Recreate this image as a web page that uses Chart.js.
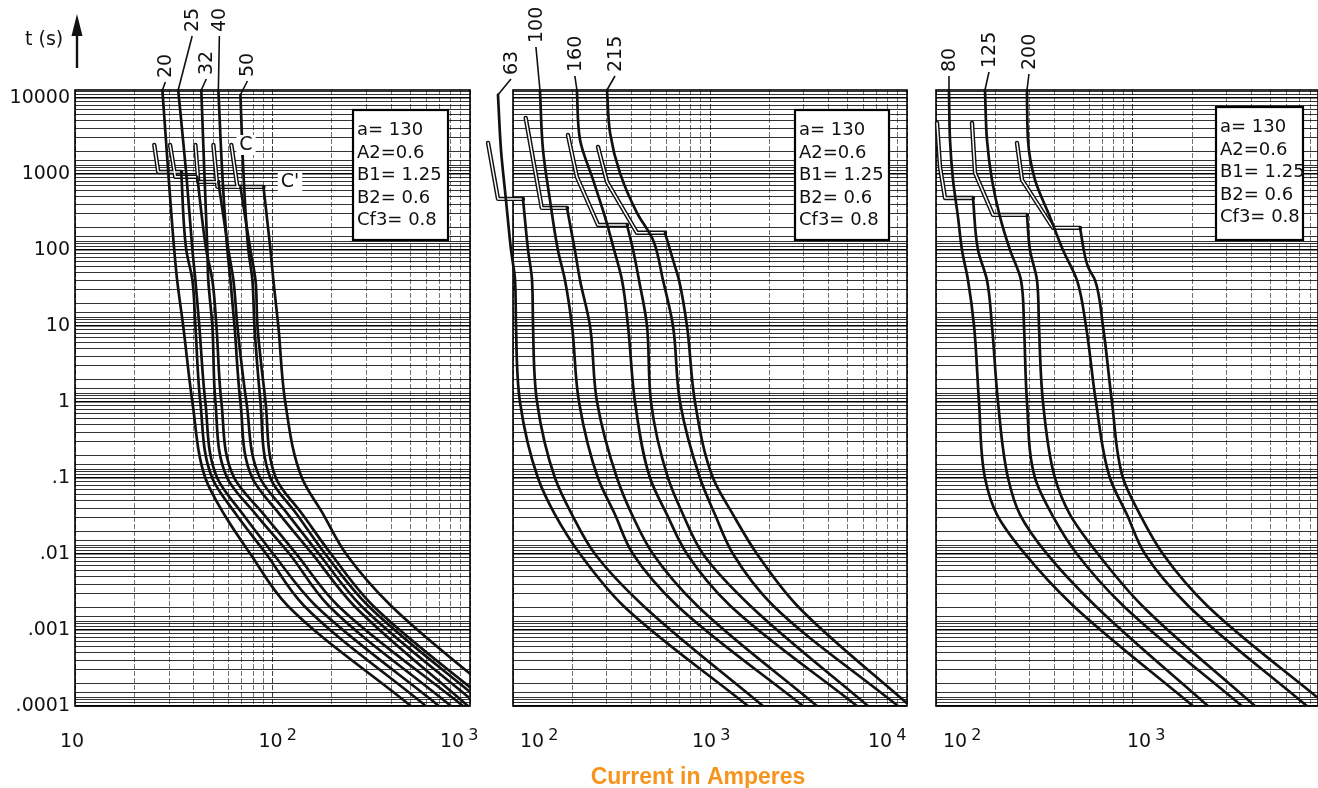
<!DOCTYPE html>
<html><head><meta charset="utf-8">
<script src="https://cdn.jsdelivr.net/npm/chart.js@4"></script>
<style>
html,body{margin:0;padding:0;background:#fff;width:1318px;height:788px;overflow:hidden}
canvas{position:absolute;left:0;top:0}
</style></head>
<body>
<canvas id="cLeft" width="1318" height="788"></canvas>
<canvas id="cMid" width="1318" height="788"></canvas>
<canvas id="cRight" width="1318" height="788"></canvas>
<script>
// ---------------- axes / ticks ----------------
const Y_MIN = 0.0001, Y_MAX = 12700;
const LEFT_X = [10, 1000];
const MID_X = [100, 10000];
const RIGHT_X = [100, 8700];
const Y_GRID_STEPS = [1, 1.1, 1.2, 1.3, 1.5, 2, 3, 4, 5, 6, 7, 8, 9];
const X_GRID_STEPS = [1, 2, 3, 4, 5, 6, 7, 8, 9];
const Y_TICKS = [10000, 1000, 100, 10, 1, 0.1, 0.01, 0.001, 0.0001];
const Y_TICK_LABELS = ['10000', '1000', '100', '10', '1', '.1', '.01', '.001', '.0001'];
const LEFT_X_TICKS = [10, 100, 1000];   const LEFT_X_EXP = ['', '2', '3'];
const MID_X_TICKS = [100, 1000, 10000]; const MID_X_EXP = ['2', '3', '4'];
const RIGHT_X_TICKS = [100, 1000];      const RIGHT_X_EXP = ['2', '3'];
const PARAM_LINES = ['a= 130', 'A2=0.6', 'B1= 1.25', 'B2= 0.6', 'Cf3= 0.8'];
const Y_TITLE = 't (s)';
const X_TITLE = 'Current in Amperes';
const CURVE_MARKS = ['C', "C'"];

// ---------------- left panel (ratings 20..50 A) : [current A, time s] ----------------
const LEFT_RATINGS = ['20', '25', '32', '40', '50'];
const F20_MAIN = [[27.7,12700],[29.7,1000],[31.8,100],[32.9,40],[35.3,10],[39.3,1],[45.7,0.1],[57,0.033],[77.3,0.01],[119,0.0021],[502,0.0001]];
const F20_DBL  = [[25.2,2400],[26.4,1060],[34.5,1060]];
const F20_ALT  = [[34.5,1060],[36.6,100],[39.3,40],[40.7,10],[43.1,1],[49.5,0.1],[65.5,0.033],[93,0.01],[144,0.0021],[598,0.0001]];
const F25_MAIN = [[33.3,12700],[36.6,1000],[39.3,100],[40.7,40],[42.6,10],[45.7,1],[52.5,0.1],[71,0.033],[101,0.01],[165,0.0021],[696,0.0001]];
const F25_DBL  = [[30.3,2400],[32.2,915],[41.6,915]];
const F25_ALT  = [[41.6,915],[46.2,100],[49.6,40],[52.0,10],[55.1,1],[64,0.1],[90.5,0.033],[132,0.01],[214,0.0021],[922,0.0001]];
const F32_MAIN = [[43.6,12700],[45.2,1000],[46.8,100],[47.3,40],[49.6,10],[51.4,1],[59,0.1],[82.5,0.033],[122,0.01],[192,0.0021],[801,0.0001]];
const F32_DBL  = [[40.7,2400],[42.1,785],[53.2,785]];
const F32_ALT  = [[53.2,785],[59.8,100],[63.4,40],[66.4,10],[73.8,1],[86.5,0.1],[120,0.033],[172,0.01],[280,0.0021],[1111,0.0001]];
const F40_MAIN = [[53.2,12700],[55.7,1000],[59.1,100],[61.2,40],[64.2,10],[68.8,1],[79,0.1],[109,0.033],[159,0.01],[258,0.0021],[977,0.0001]];
const F40_DBL  = [[50.2,2400],[52.6,675],[68.8,675]];
const F40_ALT  = [[68.8,675],[77.3,100],[82,40],[83.9,10],[92.2,1],[104,0.1],[142,0.033],[198,0.01],[322,0.0021],[1309,0.0001]];
const F50_MAIN = [[68.8,11000],[71.3,1000],[75.5,100],[79.1,40],[81,10],[86.9,1],[97.5,0.1],[133,0.033],[185,0.01],[304,0.0021],[1220,0.0001]];
const F50_DBL  = [[61.9,2400],[66.4,675],[90,675]];
const F50_ALT  = [[90,675],[97.7,100],[101,40],[107,10],[116,1],[141,0.1],[181,0.033],[236,0.01],[397,0.0021],[1578,0.0001]];

// ---------------- middle panel (63..215 A) ----------------
const MID_RATINGS = ['63', '100', '160', '215'];
const F63_MAIN  = [[83.9,11000],[86.9,2070],[92.1,455],[97.7,100],[102.4,40],[103.6,10],[108.5,1],[133.9,0.1],[163.4,0.033],[218.9,0.01],[361.8,0.0021],[1559,0.0001]];
const F63_DBL   = [[74.7,2560],[83.9,469],[112.4,469]];
const F63_ALT   = [[112.4,469],[119.2,100],[124.9,40],[126.4,10],[132.4,1],[163.4,0.1],[199.3,0.033],[260.8,0.01],[457,0.0021],[1858,0.0001]];
const F100_MAIN = [[137,12700],[142,2070],[154,455],[169,100],[183.6,40],[199.3,10],[216.3,1],[270.1,0.1],[329.4,0.033],[406.6,0.01],[680,0.0021],[2966,0.0001]];
const F100_DBL  = [[116,5450],[140,357],[188,357]];
const F100_ALT  = [[188,357],[206,100],[218.9,40],[246,10],[267,1],[337.2,0.1],[401.8,0.033],[513.6,0.01],[859,0.0021],[3493,0.0001]];
const F160_MAIN = [[211,12700],[219,2800],[255,834],[293,272],[326,100],[357.6,40],[383.5,10],[416.3,1],[496.1,0.1],[604.9,0.033],[764.2,0.01],[1263,0.0021],[5575,0.0001]];
const F160_DBL  = [[190,3260],[211,915],[270,213],[379,213]];
const F160_ALT  = [[379,213],[407,100],[436.2,40],[478.9,10],[501.8,1],[612.1,0.1],[729.5,0.033],[921.5,0.01],[1596,0.0021],[6339,0.0001]];
const F215_MAIN = [[300,12700],[311,3460],[349,1030],[426,307],[514,135],[577.3,40],[648.9,10],[704.2,1],[889.7,0.1],[1060,0.033],[1309,0.01],[2088,0.0021],[9000,0.0001]];
const F215_DBL  = [[270,2265],[300,785],[426,168],[591,168]];
const F215_ALT  = [[591,168],[649,74],[696,40],[764,10],[839,1],[1036,0.1],[1309,0.033],[1732,0.01],[2764,0.0021],[10356,0.0001]];

// ---------------- right panel (80..200 A) ----------------
const RIGHT_RATINGS = ['80', '125', '200'];
const F80_MAIN  = [[116.4,12700],[117.8,2800],[122,834],[129.3,272],[135.5,100],[145.4,40],[156,10],[165.3,1],[177.3,0.1],[204,0.033],[283,0.01],[496,0.0021],[2017,0.0001]];
const F80_DBL   = [[101.2,4690],[104.8,1236],[111.1,483],[154.1,483]];
const F80_ALT   = [[154.1,483],[163.4,100],[181.5,40],[192.4,10],[206.4,1],[232.1,0.1],[267,0.033],[366,0.01],[641.5,0.0021],[2403,0.0001]];
const F125_MAIN = [[177.3,12700],[181.5,2800],[192.4,834],[211.3,272],[237.5,100],[270.1,40],[279.8,10],[289.7,1],[318.2,0.1],[388,0.033],[519.6,0.01],[889.7,0.0021],[3576,0.0001]];
const F125_DBL  = [[152.3,4690],[157.8,1030],[194.7,289],[289.7,289]];
const F125_ALT  = [[289.7,289],[300,100],[325.6,40],[333.3,10],[349.2,1],[401.8,0.1],[478.9,0.033],[664.3,0.01],[1111,0.0021],[4163,0.0001]];
const F200_MAIN = [[289.7,12700],[293.1,2800],[318.2,834],[379,272],[441.2,100],[519.6,40],[577.3,10],[648.9,1],[764.2,0.1],[932.2,0.033],[1151,0.01],[1902,0.0021],[7642,0.0001]];
const F200_DBL  = [[257.7,2560],[273.3,834],[392.6,195],[538.3,195]];
const F200_ALT  = [[538.3,195],[591,60],[641.5,40],[704.2,10],[782.3,1],[889.7,0.1],[1085,0.033],[1420,0.01],[2375,0.0021],[9768,0.0001]];

// ---------------- layout (pixels only) ----------------
const LAYOUT = {
  left:  { pad:{left:75,  right:848, top:90, bottom:82}, box:[353,110,95,130], xdx:[-15,-14,-30], lab:[[4,78],[15,32],[6,75],[2,32],[8,77]], clipLeft:0 },
  mid:   { pad:{left:513, right:411, top:90, bottom:82}, box:[795,110,94,130], xdx:[7,-18,-39],   lab:[[14,75],[-3,43],[-1,72],[9,72]],      clipLeft:40 },
  right: { pad:{left:936, right:0,   top:90, bottom:82}, box:[1216,107,87,133], xdx:[7,-6],       lab:[[1,72],[5,68],[3,70]],                clipLeft:4 }
};
const FONT = '"DejaVu Sans", sans-serif';
const INK = '#111';

function pts(a) { return a.map(p => ({x: p[0], y: p[1]})); }
function gridValues(min, max, steps) {
  const out = [];
  for (let e = Math.floor(Math.log10(min)) - 1; e <= Math.ceil(Math.log10(max)); e++) {
    for (const m of steps) {
      const v = parseFloat((m * Math.pow(10, e)).toPrecision(6));
      if (v >= min * 0.9999 && v <= max * 1.0001) out.push(v);
    }
  }
  return out;
}
function isDecade(v) { const l = Math.log10(v); return Math.abs(l - Math.round(l)) < 1e-6; }

function buildDatasets(groups, clipLeft) {
  const ds = [];
  const clip = {left: clipLeft, top: 6, right: 0, bottom: 0};
  groups.forEach(g => {
    ds.push({data: pts(g.dbl), borderColor: INK, borderWidth: 4.4, tension: 0, order: 3, clip});
    ds.push({data: pts(g.dbl), borderColor: '#fff', borderWidth: 1.5, tension: 0, order: 2, clip});
    ds.push({data: pts(g.main), borderColor: INK, borderWidth: 2.7, cubicInterpolationMode: 'monotone', order: 1, clip});
    ds.push({data: pts(g.alt), borderColor: INK, borderWidth: 2.7, cubicInterpolationMode: 'monotone', order: 1, clip});
  });
  ds.forEach(d => { d.showLine = true; d.pointRadius = 0; d.fill = false; d.indexAxis = 'y';
                    d.borderCapStyle = 'round'; d.borderJoinStyle = 'round'; });
  return ds;
}

function panelPlugin(P) {
  return {
    id: 'panel_' + P.name,
    beforeDatasetsDraw(chart) {
      const {ctx, chartArea: a} = chart;
      ctx.save();
      ctx.strokeStyle = '#000'; ctx.lineWidth = 1.6;
      ctx.strokeRect(a.left, a.top, a.right - a.left, a.bottom - a.top);
      ctx.restore();
    },
    afterDatasetsDraw(chart) {
      const ctx = chart.ctx;
      const [bx, by, bw, bh] = P.L.box;
      ctx.save();
      ctx.fillStyle = '#fff'; ctx.fillRect(bx, by, bw, bh);
      ctx.lineWidth = 2.2; ctx.strokeStyle = '#000'; ctx.strokeRect(bx, by, bw, bh);
      ctx.fillStyle = INK; ctx.font = '18px ' + FONT; ctx.textAlign = 'left'; ctx.textBaseline = 'alphabetic';
      PARAM_LINES.forEach((s, i) => ctx.fillText(s, bx + 4, by + 25 + i * 22.5));
      ctx.restore();
    },
    afterDraw(chart) {
      const {ctx, chartArea: a} = chart;
      const xs = chart.scales.x, ys = chart.scales.y;
      ctx.save();
      ctx.fillStyle = INK; ctx.strokeStyle = INK;
      P.xTicks.forEach((v, i) => {
        const px = xs.getPixelForValue(v) + P.L.xdx[i];
        ctx.font = '19px ' + FONT; ctx.textAlign = 'left'; ctx.textBaseline = 'alphabetic';
        ctx.fillText('10', px, 747);
        if (P.xExp[i]) {
          const w = ctx.measureText('10').width;
          ctx.font = '16px ' + FONT;
          ctx.fillText(P.xExp[i], px + w + 4, 740);
        }
      });
      if (P.yLabels) {
        ctx.font = '19px ' + FONT; ctx.textAlign = 'right'; ctx.textBaseline = 'middle';
        Y_TICKS.forEach((v, i) => ctx.fillText(Y_TICK_LABELS[i], a.left - 5, ys.getPixelForValue(v)));
        ctx.textAlign = 'left'; ctx.textBaseline = 'alphabetic';
        ctx.fillText(Y_TITLE, 25, 45);
        ctx.lineWidth = 2.4;
        ctx.beginPath(); ctx.moveTo(77, 68); ctx.lineTo(77, 28); ctx.stroke();
        ctx.beginPath(); ctx.moveTo(71.5, 36); ctx.lineTo(77, 14); ctx.lineTo(82.5, 36); ctx.closePath(); ctx.fill();
        ctx.font = '19px ' + FONT; ctx.textBaseline = 'middle'; ctx.textAlign = 'center';
        [[246, 145], [290, 182]].forEach((pos, i) => {
          const w = ctx.measureText(CURVE_MARKS[i]).width + 6;
          ctx.fillStyle = '#fff'; ctx.fillRect(pos[0] - w / 2, pos[1] - 10, w, 20);
          ctx.fillStyle = INK; ctx.fillText(CURVE_MARKS[i], pos[0], pos[1]);
        });
      }
      P.groups.forEach((g, i) => {
        const top = g.main[0];
        const tx = xs.getPixelForValue(top[0]);
        const ty = ys.getPixelForValue(Math.min(top[1], Y_MAX));
        const [dx, bottom] = P.L.lab[i];
        const cx = tx + dx;
        ctx.lineWidth = 1.6;
        ctx.beginPath(); ctx.moveTo(cx - 1, bottom + 4); ctx.lineTo(tx, ty); ctx.stroke();
        ctx.save();
        ctx.translate(cx, bottom);
        ctx.rotate(-Math.PI / 2);
        ctx.font = '19px ' + FONT; ctx.textAlign = 'left'; ctx.textBaseline = 'middle';
        ctx.fillText(g.label, 0, 0);
        ctx.restore();
      });
      if (P.xTitle) {
        ctx.font = 'bold 23px "Liberation Sans", sans-serif';
        ctx.fillStyle = '#F7941D'; ctx.textAlign = 'center'; ctx.textBaseline = 'alphabetic';
        ctx.fillText(X_TITLE, 698, 784);
      }
      ctx.restore();
    }
  };
}

function makePanel(P) {
  const xGrid = gridValues(P.xRange[0], P.xRange[1], X_GRID_STEPS);
  const yGrid = gridValues(Y_MIN, Y_MAX, Y_GRID_STEPS);
  return new Chart(document.getElementById(P.canvas), {
    type: 'scatter',
    data: { datasets: buildDatasets(P.groups, P.L.clipLeft) },
    plugins: [panelPlugin(P)],
    options: {
      responsive: false, animation: false, events: [],
      layout: { padding: P.L.pad },
      elements: { line: { capBezierPoints: false } },
      plugins: { legend: { display: false }, tooltip: { enabled: false } },
      scales: {
        x: {
          type: 'logarithmic', min: P.xRange[0], max: P.xRange[1], position: 'bottom',
          afterBuildTicks: s => { s.ticks = xGrid.map(v => ({value: v})); },
          afterFit: s => { s.height = 0; },
          ticks: { display: false },
          grid: { drawTicks: false, color: c => isDecade(c.tick.value) ? 'rgba(0,0,0,0.75)' : 'rgba(0,0,0,0.55)', lineWidth: 1 },
          border: { display: false, dash: [5, 2] }
        },
        y: {
          type: 'logarithmic', min: Y_MIN, max: Y_MAX, position: 'left',
          afterBuildTicks: s => { s.ticks = yGrid.map(v => ({value: v})); },
          afterFit: s => { s.width = 0; },
          ticks: { display: false },
          grid: { drawTicks: false, color: c => isDecade(c.tick.value) ? '#000' : 'rgba(0,0,0,0.8)', lineWidth: c => isDecade(c.tick.value) ? 1.6 : 1 },
          border: { display: false }
        }
      }
    }
  });
}

function groupsOf(labels, list) { return labels.map((l, i) => ({label: l, main: list[i][0], dbl: list[i][1], alt: list[i][2]})); }

makePanel({ name: 'left', canvas: 'cLeft', L: LAYOUT.left, xRange: LEFT_X, xTicks: LEFT_X_TICKS, xExp: LEFT_X_EXP, yLabels: true, xTitle: false,
  groups: groupsOf(LEFT_RATINGS, [[F20_MAIN,F20_DBL,F20_ALT],[F25_MAIN,F25_DBL,F25_ALT],[F32_MAIN,F32_DBL,F32_ALT],[F40_MAIN,F40_DBL,F40_ALT],[F50_MAIN,F50_DBL,F50_ALT]]) });
makePanel({ name: 'mid', canvas: 'cMid', L: LAYOUT.mid, xRange: MID_X, xTicks: MID_X_TICKS, xExp: MID_X_EXP, yLabels: false, xTitle: true,
  groups: groupsOf(MID_RATINGS, [[F63_MAIN,F63_DBL,F63_ALT],[F100_MAIN,F100_DBL,F100_ALT],[F160_MAIN,F160_DBL,F160_ALT],[F215_MAIN,F215_DBL,F215_ALT]]) });
makePanel({ name: 'right', canvas: 'cRight', L: LAYOUT.right, xRange: RIGHT_X, xTicks: RIGHT_X_TICKS, xExp: RIGHT_X_EXP, yLabels: false, xTitle: false,
  groups: groupsOf(RIGHT_RATINGS, [[F80_MAIN,F80_DBL,F80_ALT],[F125_MAIN,F125_DBL,F125_ALT],[F200_MAIN,F200_DBL,F200_ALT]]) });
</script>
</body></html>
